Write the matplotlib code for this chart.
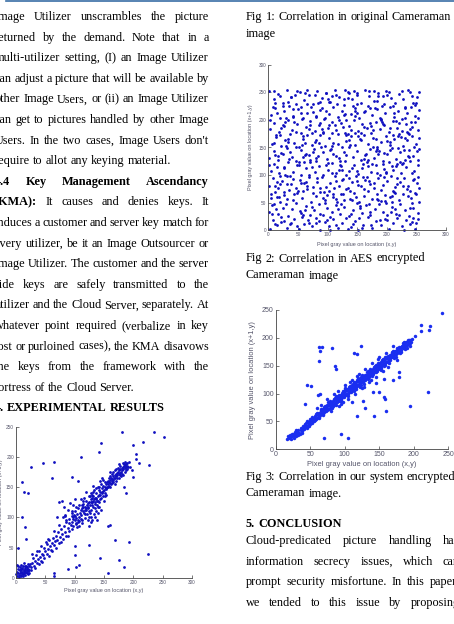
import matplotlib
matplotlib.use('Agg')
import matplotlib.pyplot as plt
from matplotlib.lines import Line2D

W, H = 454, 624

left_lines = [
    ("Image Utilizer unscrambles the picture", 'j', 0),
    ("returned by the demand. Note that in a", 'j', 0),
    ("multi-utilizer setting, (I) an Image Utilizer", 'j', 0),
    ("can adjust a picture that will be available by", 'j', 0),
    ("other Image Users, or (ii) an Image Utilizer", 'j', 0),
    ("can get to pictures handled by other Image", 'j', 0),
    ("Users. In the two cases, Image Users don't", 'j', 0),
    ("require to allot any keying material.", 'l', 0),
    ("4.4 Key Management Ascendancy", 'j', 4),
    ("(KMA): It causes and denies keys. It", 'j', 1),
    ("induces a customer and server key match for", 'j', 0),
    ("every utilizer, be it an Image Outsourcer or", 'j', 0),
    ("Image Utilizer. The customer and the server", 'j', 0),
    ("side keys are safely transmitted to the", 'j', 0),
    ("utilizer and the Cloud Server, separately. At", 'j', 0),
    ("whatever point required (verbalize in key", 'j', 0),
    ("lost or purloined cases), the KMA disavows", 'j', 0),
    ("the keys from the framework with the", 'j', 0),
    ("fortress of the Cloud Server.", 'l', 0),
    ("4. EXPERIMENTAL RESULTS", 'l', 3),
]

captions = [
    ("Fig 1: Correlation in original Cameraman", 17),
    ("image", 33.5),
    ("Fig 2: Correlation in AES encrypted", 258.5),
    ("Cameraman image", 275.5),
    ("Fig 3: Correlation in our system encrypted", 477),
    ("Cameraman image.", 493.5),
]

conclusion_title = "5. CONCLUSION"
conclusion_lines = [
    "Cloud-predicated picture handling has",
    "information secrecy issues, which can",
    "prompt security misfortune. In this paper,",
    "we tended to this issue by proposing",
]

x_label = "Pixel gray value on location (x,y)"
y_label = "Pixel gray value on location (x+1,y)"

# Fig 1: original image, neighbouring pixels (x, y)
orig_pts = [
    (2,3),(4,8),(5,5),(6,12),(7,7),(8,10),(9,4),(10,9),(11,14),(12,6),(13,11),(14,8),(15,16),(16,12),
    (17,9),(18,14),(19,18),(20,11),(21,15),(22,20),(6,17),(3,14),(8,2),(12,19),(16,5),(24,22),(25,13),
    (9,21),(14,13),(11,7),(7,13),(18,8),(20,22),(4,20),(1,10),(13,24),(23,8),(15,10),(10,16),(19,12),
    (2,21),(17,20),(5,1),(21,6),(26,17),(12,2),(0,6),(8,15),(16,19),(22,12),
    (27,25),(29,33),(30,20),(32,28),(34,37),(36,24),(38,31),(40,45),(41,34),(43,28),(44,40),(46,38),
    (47,50),(48,33),(50,44),(52,56),(53,40),(55,48),(57,62),(58,52),(60,46),(61,58),(63,66),(64,54),
    (66,61),(68,50),(69,70),(70,63),(72,76),(73,58),(75,68),(77,81),(78,72),(80,64),(82,86),(83,76),
    (85,92),(86,70),(88,83),(90,97),(91,78),(93,88),(95,102),(96,80),(35,44),(45,26),(54,65),(62,44),
    (74,88),(80,100),(28,40),(33,16),(42,52),(56,36),(65,77),(76,60),(84,104),(89,70),(39,22),(51,60),
    (70,100),(74,125),(78,128),(81,118),(84,103),(88,112),(92,124),(95,111),(98,120),(100,130),(86,96),(90,90),
    (96,92),(97,100),(98,86),(99,104),(100,95),(101,110),(102,89),(103,99),(104,106),(105,93),(106,115),
    (107,101),(108,85),(109,108),(110,98),(96,108),(104,84),(100,102),(106,96),(110,112),(98,97),(102,118),
    (108,120),(103,90),(107,94),
    (111,104),(112,116),(113,95),(114,110),(115,122),(116,107),(117,99),(118,118),(119,112),(120,128),
    (121,105),(122,115),(123,124),(124,110),(125,100),(112,90),(114,127),(116,132),(118,105),(120,116),
    (122,95),(124,135),(113,120),(117,113),(121,121),(119,142),(115,117),(123,118),(111,130),(125,126),
    (126,120),(127,130),(128,112),(129,125),(130,138),(131,118),(132,128),(133,145),(134,122),(135,132),
    (136,110),(137,140),(138,127),(139,135),(140,150),(126,108),(128,140),(130,126),(132,135),(134,115),
    (136,148),(138,120),(127,125),(129,132),(131,142),(133,130),(135,125),(137,133),(139,118),(128,100),
    (132,152),(136,130),(140,128),(126,135),(130,120),
    (141,138),(142,145),(143,130),(144,142),(145,155),(146,140),(147,148),(148,135),(149,152),(150,145),
    (151,150),(152,140),(153,155),(154,148),(155,158),(141,125),(143,160),(145,133),(147,142),(149,162),
    (151,136),(153,147),(155,150),(142,150),(146,165),(150,128),(152,158),(144,137),(148,144),(154,138),
    (156,155),(157,160),(158,152),(159,158),(160,162),(161,157),(162,165),(163,160),(164,163),(165,168),
    (166,162),(167,166),(168,170),(169,165),(170,172),(171,168),(172,174),(173,170),(174,176),(175,172),
    (176,178),(177,174),(178,180),(179,176),(180,182),(181,178),(182,184),(183,180),(184,185),(185,182),
    (186,187),(187,184),(188,188),(189,186),(190,190),(158,165),(162,155),(166,175),(170,160),(174,182),
    (178,170),(182,190),(186,176),(157,150),(161,168),(165,158),(169,178),(173,165),(177,185),(181,172),
    (185,192),(189,180),(160,175),(168,155),(175,188),(183,170),(163,172),(171,180),(179,168),(187,179),
    (192,192),(191,183),(160,150),(164,157),(176,166),(184,188),
    (125,85),(130,95),(135,100),(140,108),(145,112),(128,92),(133,105),(138,96),(142,118),(96,167),(105,160),
    (184,150),(194,184),(198,178),(200,167),(188,140),(205,197),(210,190),
]
orig_outliers = [
    (236,242),(252,233),(180,242),(216,225),(145,224),(199,220),(142,208),(204,206),(110,200),(46,190),
    (65,192),(25,184),(226,187),(62,166),(11,158),(14,142),(21,141),(10,100),(156,86),(160,88),(169,62),
    (193,60),(125,55),(100,52),(143,33),(225,39),(176,29),(184,18),(89,15),(101,38),(108,21),(102,18),
    (156,8),(64,7),(64,3),(4,50),(17,64),(15,84),
]

# Fig 2: AES encrypted image
aes_pts = [
    (3,2),(8,18),(15,9),(22,24),(31,5),(38,14),(44,21),(52,3),(60,11),(67,19),(73,7),(81,23),(88,1),(95,15),
    (102,8),(110,20),(117,4),(124,13),(131,22),(139,6),(146,17),(152,1),(160,10),(168,24),(175,5),(182,16),
    (190,9),(197,21),(204,2),(211,14),(218,23),(225,7),(232,18),(240,11),(247,3),(253,20),(12,12),(57,25),
    (105,0),(143,12),(188,19),(229,1),(250,14),(26,16),(135,2),
    (2,34),(9,47),(17,29),(24,41),(33,26),(40,38),(47,49),(55,31),(63,44),(70,28),(77,36),(85,48),(92,27),
    (99,40),(107,33),(114,46),(121,30),(128,42),(136,26),(143,37),(150,49),(158,32),(165,45),(172,28),
    (180,39),(187,47),(194,34),(201,27),(209,43),(216,30),(223,48),(231,36),(238,26),(245,41),(252,31),
    (13,39),(62,37),(118,38),(170,47),(214,38),(30,48),(87,30),(155,40),(199,49),(242,49),
    (5,58),(11,70),(19,52),(27,64),(35,73),(42,55),(49,67),(57,59),(65,74),(72,51),(80,62),(88,69),(95,54),
    (103,72),(110,60),(116,52),(123,66),(131,74),(138,57),(145,68),(153,51),(161,63),(168,71),(175,56),
    (183,65),(190,73),(197,53),(205,61),(212,70),(220,55),(227,66),(234,74),(241,58),(248,68),(254,52),
    (32,56),(76,68),(127,55),(185,54),(236,63),(14,61),(99,64),(148,60),(208,52),(58,72),
    (1,81),(8,94),(16,77),(23,89),(31,99),(38,83),(46,76),(53,92),(61,85),(68,97),(75,79),(83,88),(90,96),
    (97,78),(105,86),(112,99),(119,81),(126,93),(134,76),(141,87),(148,98),(156,80),(163,91),(171,84),
    (178,77),(185,95),(193,82),(200,90),(207,99),(214,78),(222,87),(229,94),(236,80),(244,92),(251,85),
    (20,84),(66,80),(114,90),(160,97),(218,95),(41,93),(87,77),(137,95),(196,96),(255,77),
    (4,108),(10,121),(18,103),(26,115),(34,124),(41,106),(48,118),(56,101),(63,112),(71,123),(78,105),
    (86,117),(93,100),(100,110),(108,122),(115,104),(122,116),(130,125),(137,107),(144,119),(151,102),
    (159,113),(166,124),(173,106),(181,118),(188,101),(195,111),(203,123),(210,109),(217,120),(224,103),
    (232,114),(239,125),(246,107),(253,119),(29,101),(74,114),(120,109),(169,116),(227,122),(52,124),
    (97,119),(141,112),(199,104),(15,114),
    (2,131),(9,143),(17,127),(25,139),(32,149),(40,133),(47,126),(55,145),(62,137),(70,128),(77,148),
    (84,135),(92,142),(99,129),(106,147),(114,134),(121,126),(128,141),(136,150),(143,132),(150,144),
    (157,127),(165,139),(172,148),(179,131),(187,143),(194,126),(201,138),(209,149),(216,130),(223,142),
    (231,128),(238,146),(245,135),(252,127),(36,141),(81,131),(132,136),(184,147),(237,133),(12,137),
    (58,132),(109,139),(161,130),(205,145),(251,143),
    (6,157),(13,169),(21,152),(28,164),(36,174),(43,158),(51,151),(58,166),(66,173),(73,155),(81,163),
    (88,172),(96,153),(103,167),(110,159),(118,175),(125,151),(132,162),(140,170),(147,154),(154,165),
    (162,173),(169,157),(176,168),(184,151),(191,160),(198,171),(206,155),(213,166),(220,174),(228,152),
    (235,163),(242,170),(249,156),(254,167),(19,173),(62,159),(107,152),(151,171),(200,161),(246,151),
    (33,160),(86,158),(134,174),(181,165),
    (3,183),(10,195),(18,178),(25,190),(33,199),(40,181),(48,193),(55,176),(63,187),(70,198),(78,180),
    (85,191),(93,177),(100,186),(107,197),(115,182),(122,194),(129,176),(137,189),(144,199),(151,180),
    (159,192),(166,185),(173,176),(181,196),(188,183),(195,190),(203,178),(210,198),(217,186),(225,179),
    (232,193),(239,184),(247,197),(253,181),(22,186),(68,183),(113,190),(156,177),(221,194),(44,197),
    (90,184),(140,181),(190,199),(236,177),
    (5,209),(12,221),(20,204),(27,216),(35,225),(42,207),(50,219),(57,202),(65,213),(72,224),(80,206),
    (87,218),(94,201),(102,211),(109,223),(117,205),(124,217),(131,200),(139,210),(146,222),(153,203),
    (161,215),(168,225),(175,208),(183,219),(190,202),(197,212),(205,224),(212,206),(219,217),(226,201),
    (234,213),(241,223),(248,207),(254,218),(30,203),(76,214),(128,208),(171,221),(230,204),(14,213),
    (55,224),(98,216),(150,212),(210,225),
    (2,252),(9,238),(16,247),(24,231),(31,255),(38,242),(46,228),(53,250),(60,236),(68,245),(75,229),
    (83,253),(90,240),(97,248),(105,233),(112,254),(119,241),(127,227),(134,251),(141,238),(149,246),
    (156,230),(163,254),(170,243),(178,235),(185,249),(192,226),(199,252),(207,240),(214,231),(221,247),
    (228,237),(236,255),(243,244),(250,230),(255,250),(20,243),(65,255),(108,244),(145,252),(194,243),
    (240,251),(130,255),(178,253),(48,253),(88,232),(226,252),(11,230),
]
aes_pts_more = [
    (6,30),(14,88),(21,140),(29,196),(37,12),(43,66),(51,118),(59,171),(66,228),(74,42),(82,95),(89,150),
    (96,204),(104,24),(111,77),(119,131),(126,187),(134,240),(141,55),(149,108),(157,163),(164,217),
    (171,33),(179,86),(186,139),(194,193),(201,246),(209,62),(216,116),(224,169),(231,222),(239,40),
    (246,93),(254,147),(3,200),(10,253),(18,60),(26,112),(33,166),(41,219),(48,8),(56,85),(63,138),
    (71,191),(79,245),(86,16),(94,69),(101,122),(108,176),(116,229),(123,47),(131,100),(138,154),
    (146,207),(153,22),(161,75),(168,128),(176,182),(183,235),(191,53),(198,106),(206,160),(213,213),
    (221,28),(228,81),(236,134),(243,188),(251,241),(1,118),(13,172),(24,225),(36,98),(47,150),(58,203),
    (69,13),(80,126),(92,178),(103,232),(114,57),(125,110),(136,163),(147,216),(159,4),(170,90),(181,143),
    (192,197),(203,250),(214,67),(225,121),(237,174),(248,227),(7,46),(19,99),(30,153),(42,206),(53,35),
    (64,88),(76,142),(87,195),(98,249),(109,66),(121,119),(132,173),(143,226),(155,44),(166,97),(177,151),
    (188,204),(200,18),(211,71),(222,124),(234,178),(245,231),(16,135),(27,189),(39,242),(50,71),(61,124),
    (73,177),(84,231),(95,50),(107,103),(118,157),(129,210),(140,29),(152,82),(163,136),(174,189),
    (186,243),(197,64),(208,117),(219,171),(231,224),(242,15),(253,96),(9,158),(32,83),(55,212),(78,160),
    (101,238),(124,92),(147,176),(170,252),(193,120),(216,198),(239,72),(4,66),(45,246),(68,136),(91,221),
    (114,10),(137,248),(160,120),(183,56),(206,185),(229,146),(252,203),(34,232),(57,155),(80,14),
    (103,190),(126,66),(149,228),(172,194),(195,140),(218,84),(241,196),(22,15),(46,178),(69,100),(92,59),
    (115,246),(138,72),(161,188),(184,104),(207,34),(230,168),(250,65),(12,80),(35,129),(58,27),(81,207),
    (104,146),(127,238),(150,90),(173,10),(196,229),(219,149),(242,104),(27,70),(120,200),(175,120),
    (62,248),(210,172),(99,18),(150,248),(245,22),(8,224),(180,222),
]

# Fig 3: our system
ours_pts = [
    (17,18),(18,24),(19,21),(20,26),(21,22),(22,19),(23,25),(24,23),(25,28),(26,21),(27,26),(28,31),
    (29,27),(30,24),(31,33),(32,29),(33,35),(34,30),(35,27),(36,34),(37,38),(38,32),(39,36),(40,41),
    (38,29),(33,26),(29,35),(24,28),
    (41,37),(42,44),(43,40),(44,47),(45,42),(46,38),(47,49),(48,45),(49,51),(50,46),(51,53),(52,48),
    (53,55),(54,50),(55,57),(56,52),(57,60),(58,55),(59,62),(60,57),(61,64),(62,59),(63,66),(64,61),
    (65,68),(66,63),(67,70),(68,65),(69,72),(70,67),(45,50),(48,41),(52,58),(55,51),(58,64),(62,56),
    (65,72),(68,62),(43,46),(50,55),(57,53),(60,66),(63,58),(66,71),(69,64),
    (71,74),(72,69),(73,76),(74,72),(75,78),(76,73),(77,80),(78,75),(79,82),(80,77),(81,84),(82,79),
    (83,86),(84,81),(85,88),(86,83),(87,90),(88,85),(89,92),(90,87),(91,94),(92,89),(93,96),(94,91),
    (95,98),(96,93),(97,100),(98,95),(99,102),(100,97),(72,77),(75,70),(78,83),(81,76),(84,90),(87,80),
    (90,95),(93,86),(96,101),(99,94),(74,79),(77,72),(80,85),(83,78),(86,92),(89,84),(92,98),(95,90),
    (98,104),(73,68),(79,86),(85,79),(91,88),(97,96),(76,84),(82,74),(88,95),(94,86),(100,106),(70,76),
    (101,104),(102,99),(103,106),(104,101),(105,108),(106,103),(107,110),(108,105),(109,112),(110,107),
    (111,114),(112,109),(113,116),(114,111),(115,118),(116,113),(117,120),(118,115),(119,122),(120,117),
    (121,124),(122,119),(123,126),(124,121),(125,128),(126,123),(127,130),(128,125),(129,132),(130,127),
    (102,108),(105,100),(108,112),(111,106),(114,120),(117,112),(120,125),(123,116),(126,131),(129,124),
    (103,97),(106,111),(109,103),(112,117),(115,110),(118,124),(121,114),(124,129),(127,120),(130,134),
    (101,110),(104,96),(110,116),(113,105),(119,128),(122,112),(125,134),(128,118),(107,114),(116,108),
    (131,133),(132,128),(133,136),(134,131),(135,138),(136,133),(137,140),(138,135),(139,142),(140,137),
    (141,144),(142,139),(143,146),(144,141),(145,148),(146,143),(147,150),(148,145),(149,152),(150,147),
    (151,154),(152,149),(153,156),(154,151),(155,158),(156,153),(157,160),(158,155),(159,162),(160,157),
    (161,164),(162,159),(163,166),(164,161),(165,168),(132,138),(135,130),(138,142),(141,136),(144,150),
    (147,141),(150,155),(153,146),(156,162),(159,152),(162,168),(165,160),(133,127),(136,140),(139,133),
    (142,147),(145,139),(148,154),(151,144),(154,160),(157,150),(160,166),(163,156),(134,141),(140,131),
    (146,152),(152,143),(158,165),(164,155),(137,145),
    (166,163),(167,170),(168,165),(169,172),(170,167),(171,174),(172,169),(173,176),(174,171),(175,178),
    (176,173),(177,180),(178,175),(179,182),(180,177),(181,184),(182,179),(183,186),(184,181),(185,188),
    (186,183),(187,190),(188,185),(189,192),(190,187),(191,194),(192,189),(193,196),(194,191),(195,197),
    (196,193),(197,198),(168,175),(172,164),(176,182),(180,172),(184,190),(188,180),(192,197),(170,176),
    (174,166),(178,184),(182,174),(186,192),(190,182),(166,170),(194,186),
    (60,75),(65,80),(75,90),(80,68),(90,105),(95,82),(100,115),(105,90),(110,125),(115,100),(120,135),
    (125,110),(130,145),(135,120),(140,155),(145,130),(150,165),(155,140),(160,172),(163,148),(170,185),
    (175,160),(85,100),(92,78),(118,132),(138,124),(148,162),(128,112),(108,120),(98,85),
]
ours_outliers = [
    (241,244),(211,223),(224,222),(222,215),(210,213),(202,204),(63,183),(67,183),(64,177),(81,181),
    (114,173),(123,186),(118,171),(62,159),(86,150),(87,144),(46,115),(51,114),(61,97),(64,99),(43,82),
    (146,119),(157,127),(178,129),(178,138),(170,124),(141,103),(150,102),(157,94),(158,90),(126,87),
    (129,74),(118,60),(142,60),(160,69),(220,102),(194,78),(70,20),(95,27),(105,20),(111,85),
]

fig = plt.figure(figsize=(W / 100, H / 100), dpi=100)
rend = fig.canvas.get_renderer()
SERIF = ['Liberation Serif', 'DejaVu Serif']
SANS = ['Liberation Sans', 'DejaVu Sans']
BODY = 8.8


def put_line(text, y, x0, x1, mode, nbold=0, size=BODY):
    words = text.split(' ')
    objs = []
    for i, w in enumerate(words):
        objs.append(fig.text(0, 1 - y / H, w, fontsize=size, family=SERIF,
                             weight='bold' if i < nbold else 'normal', va='center'))
    ws = [o.get_window_extent(rend).width for o in objs]
    if mode == 'j' and len(objs) > 1:
        gap = (x1 - x0 - sum(ws)) / (len(objs) - 1)
    else:
        gap = size * 100 / 72 * 0.25
    x = x0
    for o, w in zip(objs, ws):
        o.set_x(x / W)
        x += w + gap


# blue rule at the top
fig.add_artist(Line2D([6 / W, 1], [1 - 1.2 / H] * 2, color='#3a6ea5', lw=1.2))

for i, (txt, mode, nb) in enumerate(left_lines):
    put_line(txt, 17 + i * 20.6, -5.2, 209, mode, nb)

for txt, y in captions:
    put_line(txt, y, 246, 460, 'l')
put_line(conclusion_title, 524, 246, 460, 'l', 2)
for i, txt in enumerate(conclusion_lines):
    put_line(txt, 541 + i * 20.6, 246, 459.5, 'j')


def scatter_axes(box, xmax, ymax, pts, color, tick_fs, lab_fs, lab_pos, ms):
    l, t, r, b = box
    ax = fig.add_axes([l / W, 1 - b / H, (r - l) / W, (b - t) / H])
    ax.set_xlim(0, xmax)
    ax.set_ylim(0, ymax)
    ax.set_xticks(range(0, xmax + 1, 50))
    ax.set_yticks(range(0, ymax + 1, 50))
    for s in ['top', 'right']:
        ax.spines[s].set_visible(False)
    for s in ['left', 'bottom']:
        ax.spines[s].set_color('#444444')
        ax.spines[s].set_linewidth(0.6)
    ax.tick_params(direction='in', length=2, width=0.5, color='#444444',
                   labelsize=tick_fs, labelcolor='#55556a', pad=1.5)
    for lab in ax.get_xticklabels() + ax.get_yticklabels():
        lab.set_family(SANS)
    ax.patch.set_alpha(0)
    xs, ys = zip(*pts)
    ax.plot(xs, ys, 'o', ms=ms, mew=0, color=color, clip_on=False)
    xl_y, yl_x = lab_pos
    fig.text((l + r) / 2 / W, 1 - xl_y / H, x_label, fontsize=lab_fs, family=SANS,
             color='#55556a', ha='center', va='center')
    fig.text(yl_x / W, 1 - (t + b) / 2 / H, y_label, fontsize=lab_fs, family=SANS,
             color='#55556a', ha='center', va='center', rotation=90)
    return ax


scatter_axes((16, 427, 192, 577.7), 300, 250, orig_pts + orig_outliers,
             '#1010c0', 3.4, 4.0, (590.5, 0.5), 2.0)
scatter_axes((268.3, 64.7, 446, 230.3), 300, 300, aes_pts + aes_pts_more,
             '#1010c0', 3.4, 4.0, (245, 251), 2.0)
scatter_axes((275.7, 310, 448.3, 449.3), 250, 250, ours_pts + ours_outliers,
             '#1a2ef0', 5.0, 5.4, (464, 253), 2.5)

fig.savefig('out.png', dpi=100)
